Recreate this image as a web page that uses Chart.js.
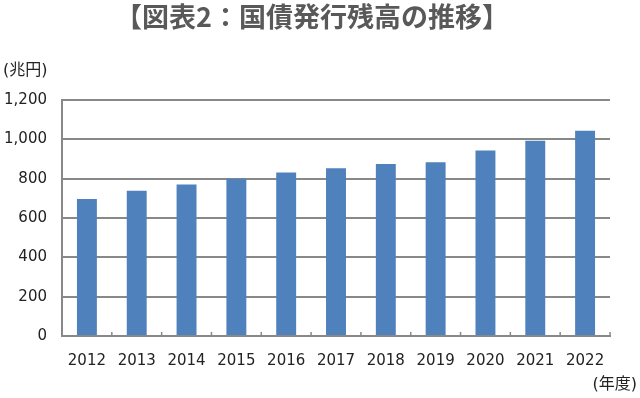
<!DOCTYPE html>
<html><head><meta charset="utf-8">
<script src="https://cdn.jsdelivr.net/npm/chart.js@4/dist/chart.umd.min.js"></script>
<style>html,body{margin:0;padding:0;background:#fff}#wrap{width:640px;height:398px;position:relative}</style>
</head><body><div id="wrap"><canvas id="c" width="640" height="398"></canvas></div>
<script>
const categories = ["2012","2013","2014","2015","2016","2017","2018","2019","2020","2021","2022"];
const debtValues = [697, 738, 770, 799, 831, 853, 874, 883, 943, 993, 1044];
const yTicks = [0, 200, 400, 600, 800, 1000, 1200];
const titleText = "【図表2：国債発行残高の推移】";
const yUnit = "(兆円)";
const xUnit = "(年度)";
const FONT = "'Noto Sans CJK JP', 'Noto Sans', sans-serif";
const NUMFONT = "'DejaVu Sans', 'Noto Sans CJK JP', sans-serif";

const extras = {
  id: 'extras',
  afterDraw(chart) {
    const ctx = chart.ctx;
    const x = chart.scales.x, y = chart.scales.y;
    ctx.save();
    ctx.fillStyle = '#595959';
    ctx.font = "bold 27px " + FONT;
    ctx.textAlign = 'center';
    ctx.textBaseline = 'middle';
    ctx.fillText(titleText, 312, 17);
    ctx.fillStyle = '#222';
    ctx.font = "16px " + NUMFONT;
    ctx.textAlign = 'left';
    ctx.fillText(yUnit, 3, 71);
    ctx.textAlign = 'right';
    ctx.fillText(xUnit, 637, 385);
    ctx.strokeStyle = '#888';
    ctx.lineWidth = 1.5;
    const half = (x.getPixelForValue(1) - x.getPixelForValue(0)) / 2;
    const base = y.getPixelForValue(0);
    for (let i = 0; i <= categories.length; i++) {
      const px = x.getPixelForValue(0) - half + i * half * 2;
      ctx.beginPath();
      ctx.moveTo(px, base);
      ctx.lineTo(px, base - 4);
      ctx.stroke();
    }
    ctx.restore();
  }
};

new Chart(document.getElementById('c'), {
  type: 'bar',
  data: {
    labels: categories,
    datasets: [{
      data: debtValues,
      backgroundColor: '#4f81bd',
      borderWidth: 0,
      barPercentage: 0.4,
      categoryPercentage: 1.0
    }]
  },
  options: {
    responsive: false,
    animation: false,
    devicePixelRatio: 1,
    layout: { padding: { top: 100, right: 30, left: 0, bottom: 0 } },
    plugins: { legend: { display: false }, title: { display: false }, tooltip: { enabled: false } },
    scales: {
      x: {
        grid: { display: false, drawTicks: false },
        border: { display: true, color: '#888', width: 2 },
        ticks: { color: '#222', font: { family: NUMFONT, size: 15 }, padding: 16, maxRotation: 0, autoSkip: false },
        afterFit(s) { s.height = 62; }
      },
      y: {
        min: 0, max: 1200,
        afterBuildTicks(s) { s.ticks = yTicks.map(v => ({ value: v })); },
        grid: { color: '#888', lineWidth: 2, drawTicks: false },
        border: { display: true, color: '#888', width: 2 },
        ticks: { color: '#222', font: { family: NUMFONT, size: 15 }, padding: 15,
          callback: v => v.toLocaleString('en-US') },
        afterFit(s) { s.width = 62; }
      }
    }
  },
  plugins: [extras]
});
</script></body></html>
